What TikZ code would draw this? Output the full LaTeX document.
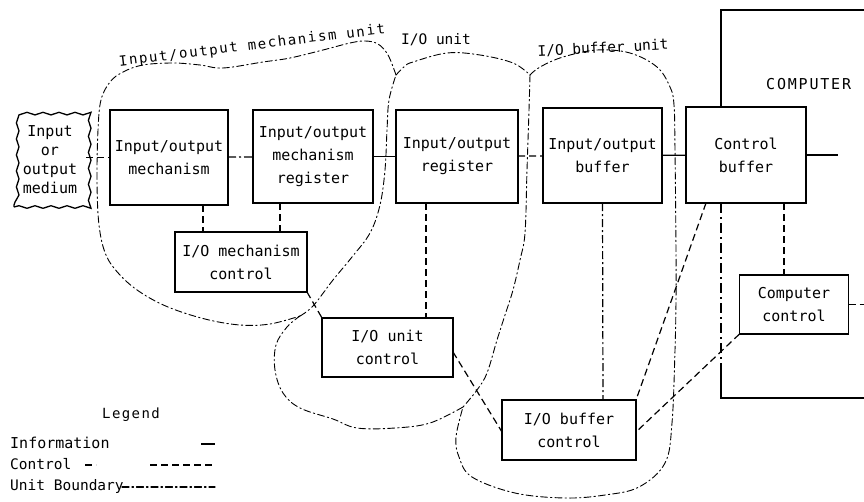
\documentclass[tikz,border=0pt]{standalone}
\usepackage{fontspec}
\newfontfamily\lett{DejaVu Sans Mono}
\usetikzlibrary{decorations.pathmorphing}
\begin{document}
\begin{tikzpicture}[x=1pt,y=-1pt,
  box/.style={draw, line width=1.3pt, inner sep=0pt, outer sep=0pt, align=center, font=\lett\fontsize{15}{23}\selectfont},
  info/.style={line width=1.2pt},
  ctl/.style={line width=1.2pt, dash pattern=on 7pt off 4pt},
  brk/.style={line width=1.2pt, dash pattern=on 8pt off 3pt on 2pt off 3pt},
  ubnd/.style={line width=0.9pt, dash pattern=on 7pt off 3pt on 1.5pt off 3pt, line cap=round},
  lbl/.style={font=\lett\fontsize{14.5}{16}\selectfont, inner sep=0pt},
]
\useasboundingbox (0,0) rectangle (864,501);
\fill[white] (0,0) rectangle (864,501);

% blocks
\node[box, minimum width=72pt, minimum height=94pt, decorate, decoration={snake, amplitude=1.3pt, segment length=16pt}, font=\lett\fontsize{15}{19}\selectfont] (med) at (50,160) {Input\\or\\output\\medium};
\node[box, minimum width=118pt, minimum height=95pt] (mech) at (169,157.5) {Input/output\\mechanism};
\node[box, minimum width=120pt, minimum height=93pt] (mreg) at (313,156.5) {Input/output\\mechanism\\register};
\node[box, minimum width=122pt, minimum height=93pt] (reg) at (457,156.5) {Input/output\\register};
\node[box, minimum width=119pt, minimum height=95pt] (buf) at (602.5,155.5) {Input/output\\buffer};
\node[box, minimum width=120pt, minimum height=96pt] (cbuf) at (746,155) {Control\\buffer};
\node[box, minimum width=132pt, minimum height=60pt] (mc) at (241,262) {I/O mechanism\\control};
\node[box, minimum width=131pt, minimum height=59pt] (uc) at (387.5,347.5) {I/O unit\\control};
\node[box, minimum width=134pt, minimum height=60pt] (bc) at (569,430) {I/O buffer\\control};
\node[box, minimum width=109pt, minimum height=59pt] (cc) at (794,304.5) {Computer\\control};

% information connectors
\draw[ctl] ([yshift=2.5pt]med.east) -- (mech.west);
\draw[brk] (mech) -- (mreg);
\draw[info] (mreg) -- (reg);
\draw[ctl] (reg) -- (buf);
\draw[info] (buf) -- (cbuf);
\coordinate (cbo) at (838,155);
\draw[info] (cbuf.east) -- (cbo);

% control connectors
\draw[ctl] ([xshift=34pt]mech.south) -- ([xshift=-38pt]mc.north);
\draw[ctl] ([xshift=-33pt]mreg.south) -- ([xshift=39pt]mc.north);
\draw[ctl] ([xshift=-31pt]reg.south) -- ([xshift=38.5pt]uc.north);
\draw[ctl] (mc.south east) -- (uc.north west);
\draw[ctl] ([yshift=-4.5pt]uc.east) -- ([yshift=-2pt]bc.west);
\draw[brk] (buf.south) -- ([xshift=34pt]bc.north);
\draw[ctl] ([xshift=-40pt]cbuf.south) -- (bc.north east);
\draw[ctl] ([xshift=38pt]cbuf.south) -- ([xshift=-10pt]cc.north);
\draw[ctl] (cc.south west) -- ([yshift=-2pt]bc.east);
\coordinate (cco) at (870,304.5);
\draw[ctl] (cc.east) -- (cco);

% computer boundary
\draw[line width=1.2pt] (870,10) -- (721,10) -- (721,107);
\draw[line width=1.2pt, dash pattern=on 10pt off 4pt on 2pt off 4pt] (721,203) -- (721,365);
\draw[line width=1.2pt] (721,365) -- (721,398) -- (870,398);
\node[lbl, anchor=west, font=\lett\fontsize{15}{17}\selectfont\addfontfeature{LetterSpace=12}] (comp) at (766,84) {COMPUTER};

% unit boundaries
\draw[ubnd] plot[smooth, tension=0.6] coordinates {(300,316) (313,306) (333,280) (352,257) (370,233) (380,205) (385,170) (387,130) (389,100) (396,75)};
\draw[ubnd] plot[smooth, tension=0.6] coordinates {(396,75) (388,55) (378,44) (365,41) (350,43) (323,50) (290,58) (263,62) (223,68) (200,65) (173,63) (143,65) (123,72) (110,82) (101,100) (98,130) (97,180) (99,225) (106,255) (120,275) (140,292) (168,307) (205,319) (240,325) (270,324) (300,316)};
\draw[ubnd] plot[smooth, tension=0.6] coordinates {(396,75) (405,66) (413,62) (447,53) (480,55) (513,63) (530,75)};
\draw[ubnd] plot[smooth, tension=0.6] coordinates {(530,75) (529,110) (527,170) (525,233) (520,260) (513,290) (505,315) (497,340) (487,373) (477,390) (463,407)};
\draw[ubnd] plot[smooth, tension=0.6] coordinates {(463,407) (430,423) (395,428) (357,428) (333,419) (300,408) (283,393) (275,370) (276,345) (287,327) (300,316)};
\draw[ubnd] plot[smooth, tension=0.6] coordinates {(530,75) (540,67) (563,57) (597,50) (630,53) (657,67) (670,87) (674,105) (675,150) (676,250) (676,300) (675,350) (672,423) (665,463) (639,487) (605,495) (565,498) (515,493) (472,477) (459,457) (456,437) (463,407)};

% unit labels
\node[lbl, rotate=7, font=\lett\fontsize{14}{16}\selectfont\addfontfeature{LetterSpace=12}] (lmu) at (252,46) {Input/output mechanism unit};
\node[lbl] (luu) at (436,40) {I/O unit};
\node[lbl, rotate=3, font=\lett\fontsize{14.5}{16}\selectfont] (lbu) at (603,48) {I/O buffer unit};

% legend
\node[lbl, font=\lett\fontsize{14}{16}\selectfont\addfontfeature{LetterSpace=10}] (leg) at (131,415) {Legend};
\node[lbl, anchor=west, font=\lett\fontsize{15}{17}\selectfont] (lgi) at (10,443) {Information};
\node[lbl, anchor=west] (lgc) at (10,464) {Control};
\node[lbl, anchor=west] (lgu) at (10,486) {Unit Boundary};
\coordinate (li1) at (201,444); \coordinate (li2) at (215,444);
\draw[info] (li1) -- (li2);
\coordinate (lc0) at (85,465); \coordinate (lc1) at (96,465);
\coordinate (lc2) at (150,465); \coordinate (lc3) at (215,465);
\draw[ctl] (lc0) -- (lc1);
\draw[ctl] (lc2) -- (lc3);
\coordinate (lu1) at (122,487); \coordinate (lu2) at (215,487);
\draw[ubnd, line width=1.1pt] (lu1) -- (lu2);
\end{tikzpicture}
\end{document}
